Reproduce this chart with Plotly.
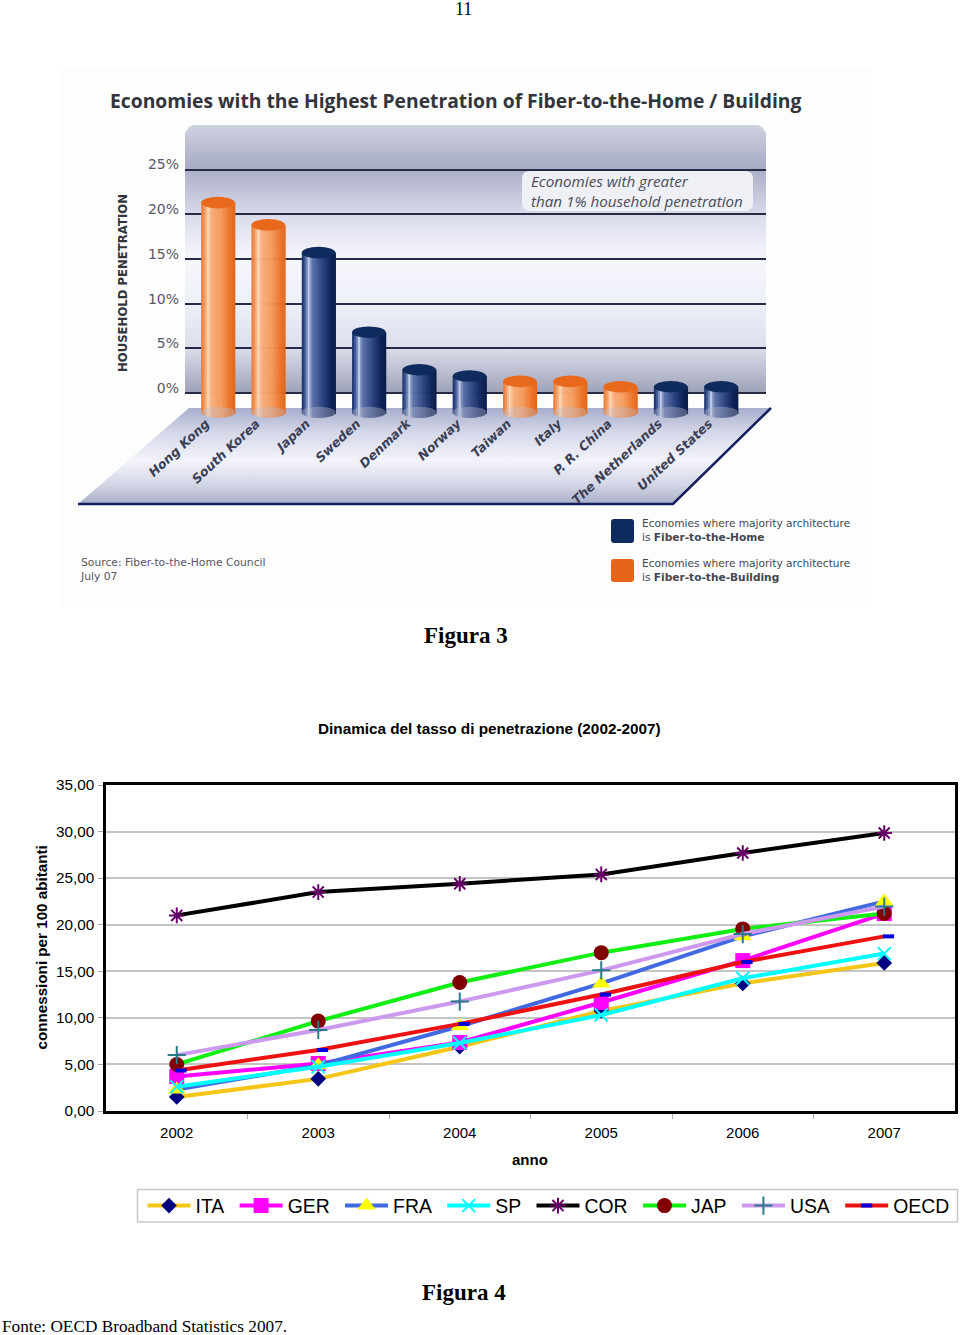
import plotly.graph_objects as go

# ---------- data: top chart ----------
countries = ["Hong Kong", "South Korea", "Japan", "Sweden", "Denmark", "Norway",
             "Taiwan", "Italy", "P. R. China", "The Netherlands", "United States"]
penetration = [21.3, 18.8, 15.7, 6.8, 2.6, 1.9, 1.3, 1.3, 0.7, 0.7, 0.7]
architecture = ["B", "B", "H", "H", "H", "H", "B", "B", "B", "H", "H"]
pct_ticks = [0, 5, 10, 15, 20, 25]
pct_labels = ["0%", "5%", "10%", "15%", "20%", "25%"]

# ---------- data: bottom chart ----------
years = ["2002", "2003", "2004", "2005", "2006", "2007"]
ITA = [1.5, 3.45, 6.9, 10.75, 13.7, 15.9]
GER = [3.7, 5.1, 7.35, 11.65, 16.15, 21.2]
FRA = [2.3, 4.9, 9.1, 13.7, 18.75, 22.5]
SP = [2.6, 4.75, 7.3, 10.3, 14.25, 16.9]
COR = [21.0, 23.5, 24.4, 25.4, 27.7, 29.85]
JAP = [5.0, 9.65, 13.8, 17.0, 19.55, 21.2]
USA = [6.0, 8.7, 11.75, 15.1, 19.0, 21.95]
OECD = [4.35, 6.55, 9.35, 12.5, 16.0, 18.75]
conn_ticks = [0, 5, 10, 15, 20, 25, 30, 35]
conn_labels = ["0,00", "5,00", "10,00", "15,00", "20,00", "25,00", "30,00", "35,00"]

W, H = 960, 1335
fig = go.Figure()
SERIF = "Liberation Serif"
SANS = "Liberation Sans"
VERD = "DejaVu Sans"
NB = "\u00a0"


def px(p):
    return p / W


def py(p):
    return 1 - p / H


def note(text, x, y, size, font=SANS, color="#000", xanchor="left", angle=0, yanchor="middle"):
    fig.add_annotation(text=text, x=px(x), y=py(y), xref="paper", yref="paper", showarrow=False,
                       xanchor=xanchor, yanchor=yanchor, align="left", textangle=angle,
                       font=dict(size=size, family=font, color=color), borderpad=0, borderwidth=0)


def mix(a, b, t):
    ca = [int(a[i:i + 2], 16) for i in (1, 3, 5)]
    cb = [int(b[i:i + 2], 16) for i in (1, 3, 5)]
    return "rgb(%d,%d,%d)" % tuple(round(u + (v - u) * t) for u, v in zip(ca, cb))


def ramp(stops, t):
    for (t0, c0), (t1, c1) in zip(stops, stops[1:]):
        if t <= t1:
            return mix(c0, c1, (t - t0) / (t1 - t0))
    return stops[-1][1]


# ---------- background decoration, on a pixel canvas (first subplot, drawn underneath) ----------
# the canvas y axis is reversed, so gradient stops count from the bottom edge upwards
fig.add_trace(go.Scatter(x=[60, 872, 872, 60], y=[68, 68, 607, 607], fill="toself", mode="none",
                         fillcolor="#fdfdfe", showlegend=False, hoverinfo="skip"))
fig.add_trace(go.Scatter(
    x=[185, 189, 193, 758, 762, 766, 766, 185], y=[133, 127, 125, 125, 127, 133, 393, 393],
    fill="toself", mode="none", showlegend=False, hoverinfo="skip",
    fillgradient=dict(type="vertical", colorscale=[
        [0, "#9ea2b8"], [0.17, "#dcdeec"], [0.34, "#eef0f8"], [0.5, "#f6f7fd"],
        [0.67, "#d8daea"], [0.843, "#a8acc4"], [1, "#cfd2e0"]])))
fig.add_trace(go.Scatter(
    x=[189, 771, 673, 78], y=[408, 408, 504, 504],
    fill="toself", mode="none", showlegend=False, hoverinfo="skip",
    fillgradient=dict(type="vertical", colorscale=[
        [0, "#a9aec8"], [0.2, "#d3d6e5"], [0.45, "#f3f4fa"], [0.75, "#d4d7e8"], [1, "#a8aecd"]])))
fig.add_trace(go.Scatter(x=[78, 673, 771], y=[504, 504, 408], mode="lines",
                         line=dict(color="#141f5c", width=2.5), showlegend=False, hoverinfo="skip"))

# ---------- cylinders ----------
ORANGE = [(0, "#e8762c"), (0.12, "#f2a06a"), (0.2, "#ffd8b8"), (0.3, "#f8ae7c"),
          (0.6, "#f59a5c"), (0.85, "#ec7428"), (1, "#e0661a")]
NAVY = [(0, "#132a66"), (0.12, "#4c64a0"), (0.2, "#c3cfe6"), (0.3, "#5f76ad"),
        (0.6, "#2f4684"), (0.85, "#0f2458"), (1, "#0a1b48")]
BAR_W = 0.67
N_STRIPS = 17
BASE = -2.15
RY_BASE = 0.62
for k in range(N_STRIPS):
    f = (k + 0.5) / N_STRIPS
    curve = (1 - (2 * f - 1) ** 2) ** 0.5
    base_here = BASE - RY_BASE * curve
    colors = [ramp(ORANGE if a == "B" else NAVY, f) for a in architecture]
    fig.add_trace(go.Bar(
        x=countries, y=[v - base_here for v in penetration], base=[base_here] * len(countries),
        width=BAR_W / N_STRIPS * 1.25, offset=-BAR_W / 2 + BAR_W * k / N_STRIPS,
        marker=dict(color=colors, line=dict(width=0)), showlegend=False, hoverinfo="skip",
        xaxis="x2", yaxis="y2"))
for i, (v, a) in enumerate(zip(penetration, architecture)):
    fig.add_shape(type="circle", xref="x2", yref="y2", layer="above",
                  x0=i - BAR_W / 2, x1=i + BAR_W / 2, y0=BASE - RY_BASE, y1=BASE + RY_BASE,
                  fillcolor="rgba(190,190,205,0.38)", line_width=0)
    fig.add_shape(type="circle", xref="x2", yref="y2", layer="above",
                  x0=i - BAR_W / 2, x1=i + BAR_W / 2, y0=v - 0.65, y1=v + 0.65,
                  fillcolor="#e8691c" if a == "B" else "#0f2a5c", line_width=0)

# rounded box and legend swatches


def rounded(x0, y0, x1, y1, r):
    return (f"M{x0 + r},{y0} L{x1 - r},{y0} Q{x1},{y0} {x1},{y0 + r} L{x1},{y1 - r} Q{x1},{y1} {x1 - r},{y1} "
            f"L{x0 + r},{y1} Q{x0},{y1} {x0},{y1 - r} L{x0},{y0 + r} Q{x0},{y0} {x0 + r},{y0} Z")


fig.add_shape(type="path", path=rounded(522, 171, 753, 211, 8), xref="x", yref="y", layer="above",
              fillcolor="#eef0f6", line_width=0)
fig.add_shape(type="path", path=rounded(611, 519, 634, 543, 3), xref="x", yref="y", layer="above",
              fillcolor="#0f2a5c", line_width=0)
fig.add_shape(type="path", path=rounded(611, 559, 634, 582, 3), xref="x", yref="y", layer="above",
              fillcolor="#e8641b", line_width=0)
# frame of the legend of the lower chart
fig.add_shape(type="rect", x0=137.5, x1=957.5, y0=1189.5, y1=1222, xref="x", yref="y", layer="above",
              fillcolor="rgba(0,0,0,0)", line=dict(color="#c8c8c8", width=1.5))

# ---------- lines ----------
series = [
    ("ITA", ITA, "#f5c518", dict(symbol="diamond", size=12, color="#000080")),
    ("GER", GER, "#ff00ff", dict(symbol="square", size=15, color="#ff00ff")),
    ("FRA", FRA, "#4169e1", dict(symbol="triangle-up", size=16, color="#ffff00")),
    ("SP", SP, "#00ffff", dict(symbol="x-thin-open", size=13, color="#00ffff", line=dict(width=2, color="#00ffff"))),
    ("COR", COR, "#000000", dict(symbol="asterisk-open", size=13, color="#660066", line=dict(width=2, color="#660066"))),
    ("JAP", JAP, "#11ee11", dict(symbol="circle", size=15, color="#800000")),
    ("USA", USA, "#cc99ee", dict(symbol="cross-thin-open", size=13, color="#2a7a8a", line=dict(width=2, color="#2a7a8a"))),
]
xpos = list(range(len(years)))
for name, vals, lc, mk in series:
    fig.add_trace(go.Scatter(x=xpos, y=vals, name=name + NB, mode="lines+markers", line=dict(color=lc, width=4),
                             marker=mk, xaxis="x3", yaxis="y3", cliponaxis=False))
oecd_marker = dict(symbol="line-ew-open", size=8, color="#0000dd", line=dict(width=4, color="#0000dd"))
fig.add_trace(go.Scatter(x=xpos, y=OECD, mode="lines", line=dict(color="#ee1111", width=4),
                         showlegend=False, xaxis="x3", yaxis="y3"))
fig.add_trace(go.Scatter(x=[i + 0.03 for i in xpos], y=OECD, mode="markers", showlegend=False,
                         marker=oecd_marker, xaxis="x3", yaxis="y3"))
fig.add_trace(go.Scatter(x=[None], y=[None], name="OECD", mode="lines+markers",
                         line=dict(color="#ee1111", width=4), marker=oecd_marker, xaxis="x3", yaxis="y3"))

# ---------- layout ----------
fig.update_layout(
    width=W, height=H, margin=dict(l=0, r=0, t=0, b=0, autoexpand=False), paper_bgcolor="white",
    plot_bgcolor="rgba(0,0,0,0)",
    barmode="overlay",
    font=dict(family=SANS, color="#000"),
    xaxis=dict(domain=[0, 1], range=[0, W], visible=False, fixedrange=True),
    yaxis=dict(domain=[0, 1], range=[H, 0], visible=False, fixedrange=True),
    xaxis2=dict(domain=[px(185), px(766)], anchor="y2", type="category",
                categoryorder="array", categoryarray=countries,
                range=[(185 - 218) / 50.3, (766 - 218) / 50.3],
                showgrid=False, showline=False, ticks="", tickangle=-43, ticklabelshift=-12, ticklabelstandoff=-7,
                tickfont=dict(family=VERD, size=12.6, color="#3a3f55", weight="bold", style="italic")),
    yaxis2=dict(domain=[py(420), py(125)], anchor="x2", range=[(393 - 420) / 8.94, (393 - 125) / 8.94],
                tickmode="array", tickvals=pct_ticks, ticktext=pct_labels, showline=False, zeroline=False,
                showgrid=True, gridcolor="#262b45", gridwidth=1.5, ticks="", ticklabelshift=-5, ticklabelstandoff=5,
                tickfont=dict(family=VERD, size=14, color="#55586a")),
    xaxis3=dict(domain=[px(106), px(955)], anchor="y3", range=[-0.5, 5.5], tickmode="array", tickvals=xpos,
                ticktext=years, ticks="", showgrid=False, zeroline=False, showline=True, mirror=True,
                linecolor="#000", linewidth=2.5, ticklabelstandoff=6,
                tickfont=dict(family=SANS, size=15, color="#000"),
                minor=dict(tickmode="array", tickvals=[0.5, 1.5, 2.5, 3.5, 4.5], ticks="outside",
                           ticklen=5, tickcolor="#aaaaaa", tickwidth=1, showgrid=False)),
    yaxis3=dict(domain=[py(1111), py(785)], anchor="x3", range=[0, 35], tickmode="array", tickvals=conn_ticks,
                ticktext=conn_labels, showgrid=True, gridcolor="#c4c4c4", gridwidth=1.5, zeroline=False,
                showline=True, mirror=True, linecolor="#000", linewidth=2.5, ticks="outside", ticklen=5,
                tickcolor="#aaaaaa", tickfont=dict(family=SANS, size=15.3, color="#000"), ticklabelstandoff=1),
    legend=dict(orientation="h", x=px(142.5), y=py(1186.5), xanchor="left", yanchor="top",
                borderwidth=0, bgcolor="rgba(0,0,0,0)", itemwidth=43,
                font=dict(family=SANS, size=19.4, color="#000"), itemclick=False, itemdoubleclick=False),
)

# ---------- texts ----------
note("11", 463, 9, 18, SERIF, xanchor="center")
note("<b>Economies with the Highest Penetration of Fiber-to-the-Home / Building</b>", 110, 100.5, 19.3, "Open Sans", "#33343c")
note("<b>HOUSEHOLD PENETRATION</b>", 123, 283, 11.7, VERD, "#33343c", xanchor="center", angle=-90)
note("<i>Economies with greater<br>than 1% household penetration</i>", 531, 191, 15.2, "Open Sans", "#4a4c58")
note("Economies where majority architecture<br>is <b>Fiber-to-the-Home</b>", 642, 530, 10.6, VERD, "#44464f")
note("Economies where majority architecture<br>is <b>Fiber-to-the-Building</b>", 642, 570, 10.6, VERD, "#44464f")
note("Source: Fiber-to-the-Home Council<br>July 07", 79.5, 570, 10.75, VERD, "#55565f")
note("<b>Figura 3</b>", 466, 635, 23, SERIF, xanchor="center")
note("<b>Dinamica del tasso di penetrazione (2002-2007)</b>", 490, 728, 15.3, SANS, xanchor="center")
note("<b>connessioni per 100 abitanti</b>", 40.5, 948, 15.2, SANS, xanchor="center", angle=-90)
note("<b>anno</b>", 530, 1159.5, 15, SANS, xanchor="center")
note("<b>Figura 4</b>", 463.5, 1292, 23, SERIF, xanchor="center")
note("Fonte: OECD Broadband Statistics 2007.", 2, 1326, 17.25, SERIF)

fig.write_html("out.html", config={"displayModeBar": False}, post_script="document.body.style.margin='0';")
